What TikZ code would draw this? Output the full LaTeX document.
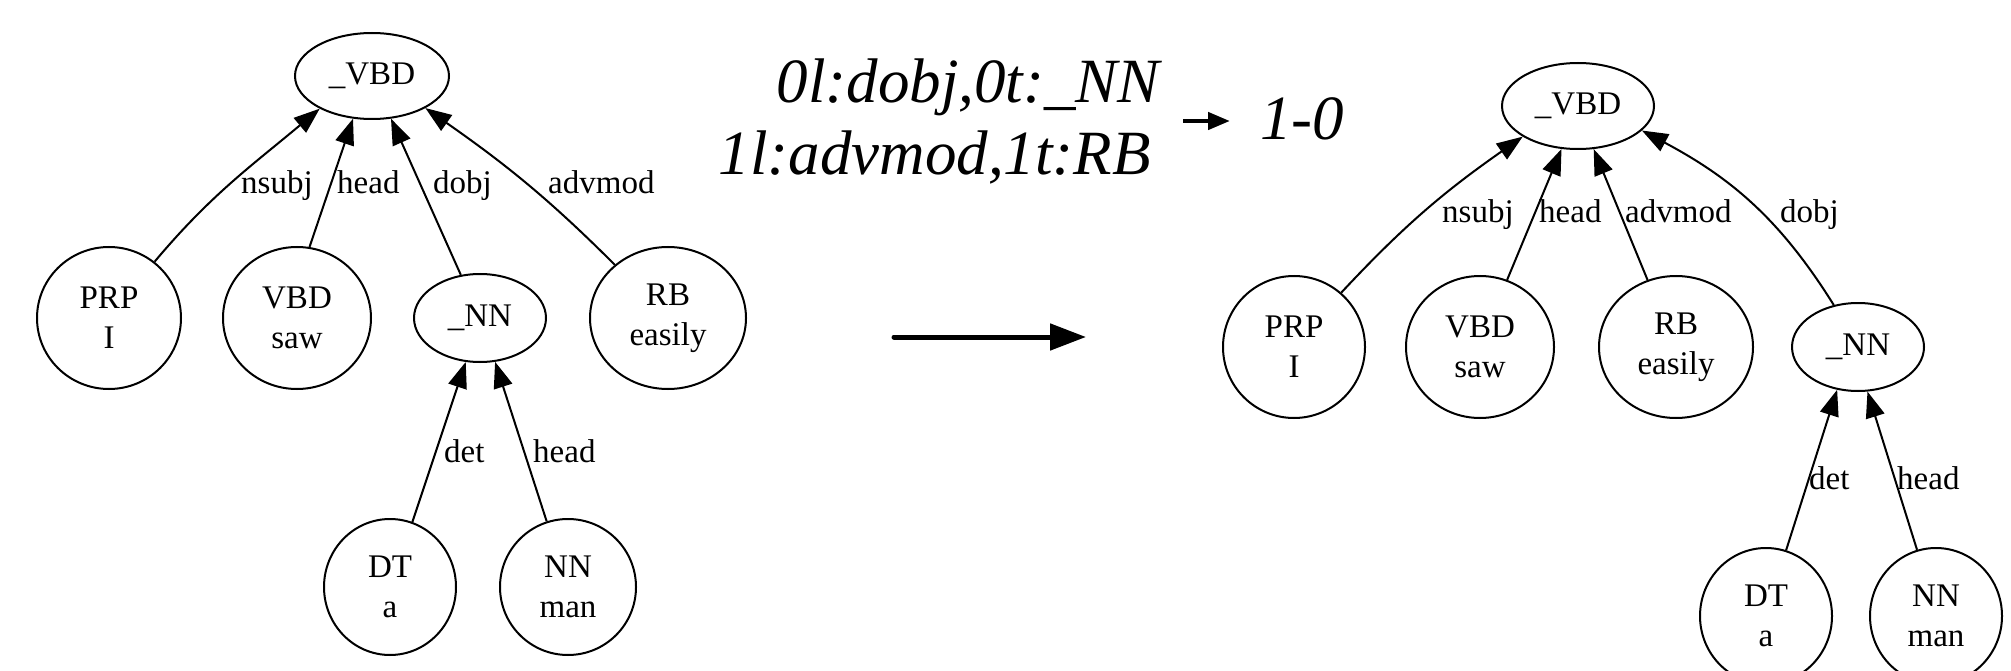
\documentclass[tikz,border=0pt]{standalone}
\usepackage{fontspec}
\setmainfont{Liberation Serif}
\usetikzlibrary{shapes.geometric,arrows.meta}
\begin{document}
\begin{tikzpicture}[x=1pt,y=-1pt,
  tnode/.style={draw, ellipse, line width=2pt, inner sep=0pt, align=center,
    font=\fontsize{33}{40}\selectfont},
  elbl/.style={anchor=base west, inner sep=0pt, font=\fontsize{33}{40}\selectfont},
  garr/.style={line width=2pt, -{Triangle[length=26pt,width=19pt]}},
  rulelbl/.style={anchor=base east, inner sep=0pt, font=\fontsize{63}{72}\selectfont\itshape},
]
\useasboundingbox (0,0) rectangle (2011,671);
\fill[white] (0,0) rectangle (2011,671);

% ---------- left tree ----------
\node[tnode, minimum width=154pt, minimum height=86pt] (VBDL) at (372,76) {\_VBD};
\node[tnode, minimum width=144pt, minimum height=142pt] (PRPL) at (109,318) {PRP\\I};
\node[tnode, minimum width=148pt, minimum height=142pt] (VBDsL) at (297,318) {VBD\\saw};
\node[tnode, minimum width=132pt, minimum height=88pt] (NNL) at (480,318) {\_NN};
\node[tnode, minimum width=156pt, minimum height=142pt] (RBL) at (668,318) {RB\\easily};
\node[tnode, minimum width=132pt, minimum height=136pt] (DTL) at (390,587) {DT\\a};
\node[tnode, minimum width=136pt, minimum height=136pt] (NNmL) at (568,587) {NN\\man};

\draw[garr] (PRPL.51) to[out=50,in=220] (VBDL.212);
\draw[garr] (VBDsL.80) -- (VBDL.246);
\draw[garr] (NNL.114) -- (VBDL.294);
\draw[garr] (RBL.135) to[out=135,in=-35] (VBDL.329);
\draw[garr] (DTL.71) -- (NNL.252);
\draw[garr] (NNmL.108) -- (NNL.289);

\node[elbl] (lnsubj) at (241,194) {nsubj};
\node[elbl] (lhead) at (337,194) {head};
\node[elbl] (ldobj) at (433,194) {dobj};
\node[elbl] (ladv) at (548,194) {advmod};
\node[elbl] (ldet) at (444,462) {det};
\node[elbl] (lhead2) at (533,462) {head};

% ---------- middle ----------
\node[rulelbl] (r0) at (1160,103) {0l:dobj,0t:\_NN};
\node[rulelbl] (r1) at (1151,175) {1l:advmod,1t:RB};
\node[anchor=base west, inner sep=0pt, font=\fontsize{63}{72}\selectfont\itshape] (res) at (1260,140) {1-0};
\coordinate (sa) at (1183,121);
\coordinate (sb) at (1230,121);
\draw[line width=4.5pt, -{Triangle[length=22pt,width=17pt]}] (sa) -- (sb);
\coordinate (ba) at (894,337);
\coordinate (bb) at (1086,337);
\draw[line width=5pt, line cap=round, -{Triangle[length=36pt,width=26pt]}] (ba) -- (bb);

% ---------- right tree ----------
\node[tnode, minimum width=152pt, minimum height=86pt] (VBDR) at (1578,106) {\_VBD};
\node[tnode, minimum width=142pt, minimum height=142pt] (PRPR) at (1294,347) {PRP\\I};
\node[tnode, minimum width=148pt, minimum height=142pt] (VBDsR) at (1480,347) {VBD\\saw};
\node[tnode, minimum width=154pt, minimum height=142pt] (RBR) at (1676,347) {RB\\easily};
\node[tnode, minimum width=132pt, minimum height=88pt] (NNR) at (1858,347) {\_NN};
\node[tnode, minimum width=132pt, minimum height=136pt] (DTR) at (1766,616) {DT\\a};
\node[tnode, minimum width=132pt, minimum height=136pt] (NNmR) at (1936,616) {NN\\man};

\draw[garr] (PRPR.49) to[out=47,in=215] (VBDR.209);
\draw[garr] (VBDsR.68) -- (VBDR.249);
\draw[garr] (RBR.113) -- (VBDR.290);
\draw[garr] (NNR.120) to[out=122,in=-28] (VBDR.339);
\draw[garr] (DTR.73) -- (NNR.244);
\draw[garr] (NNmR.106) -- (NNR.282);

\node[elbl] (rnsubj) at (1442,223) {nsubj};
\node[elbl] (rhead) at (1539,223) {head};
\node[elbl] (radv) at (1625,223) {advmod};
\node[elbl] (rdobj) at (1780,223) {dobj};
\node[elbl] (rdet) at (1809,489) {det};
\node[elbl] (rhead2) at (1897,489) {head};
\end{tikzpicture}
\end{document}
